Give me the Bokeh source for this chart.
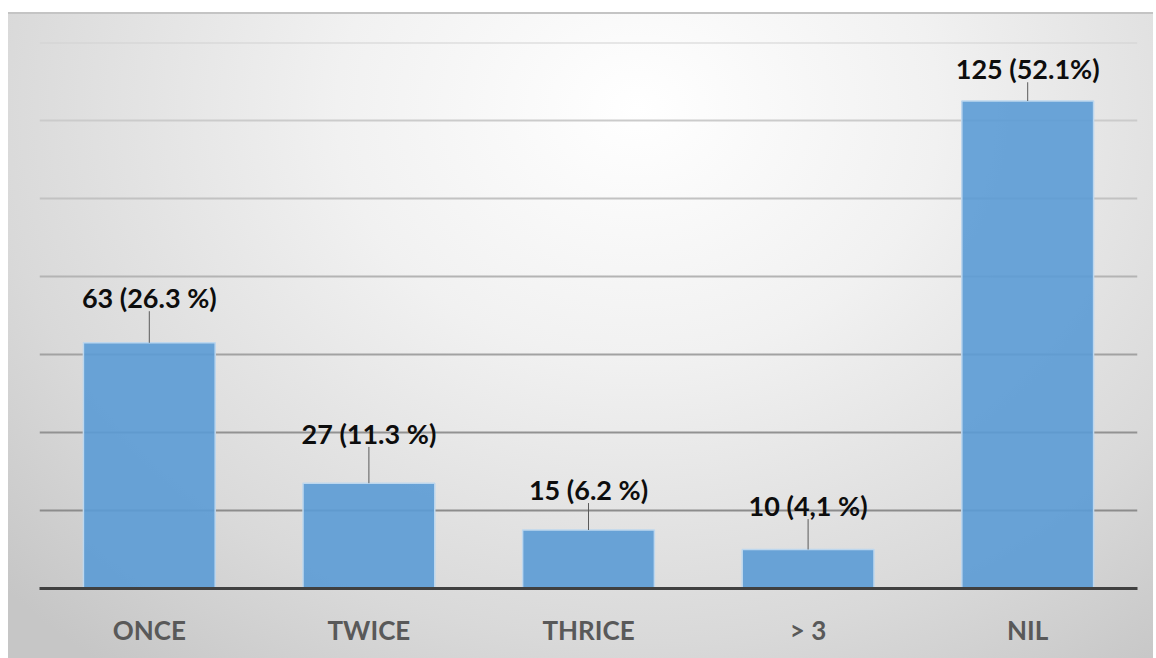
from bokeh.plotting import figure
from bokeh.models import ColumnDataSource, FactorRange, Range1d
from bokeh.core.properties import value
from bokeh.embed import file_html
from bokeh.resources import INLINE

# ---- data ----
categories = ["ONCE", "TWICE", "THRICE", "> 3", "NIL"]
counts = [63, 27, 15, 10, 125]
label_texts = ["63 (26.3 %)", "27 (11.3 %)", "15 (6.2 %)", "10 (4,1 %)", "125 (52.1%)"]
grid_levels = [20, 40, 60, 80, 100, 120, 140]

# ---- layout / style ----
label_lift = [11.6, 12.8, 10.4, 11.3, 8.3]   # data units from bar top to label baseline
leader_gap = 3.5                               # data units between label baseline and leader top
grid_colors = ["#8c8c8c", "#929292", "#a2a2a2", "#b4b4b4", "#c2c2c2", "#cbcbcb", "#d2d2d2"]

label_y = [c + l for c, l in zip(counts, label_lift)]
leader_top = [y - leader_gap for y in label_y]

src = ColumnDataSource(dict(cat=categories, count=counts, text=label_texts,
                            ly=label_y, lt=leader_top))

p = figure(x_range=FactorRange(*categories, range_padding=0),
           y_range=Range1d(0, 140),
           width=1156, height=658,
           output_backend="svg", toolbar_location=None,
           min_border_left=39, min_border_right=19,
           min_border_top=42, min_border_bottom=70)

p.background_fill_alpha = 0
p.border_fill_alpha = 0
p.outline_line_color = None
p.grid.visible = False
p.yaxis.visible = False
p.styles = {
    "background": (
        "linear-gradient(#c4c4c4, #c4c4c4) 8px 12px / 1145px 2px no-repeat, "
        "radial-gradient(ellipse 75% 110% at 55% 15%, #ffffff 0%, #f1f1f1 35%, "
        "#d9d9d9 75%, #c6c6c6 100%) 8px 12px / 1145px 646px no-repeat, #ffffff"
    )
}

# gridlines
p.hspan(y=grid_levels, line_color=grid_colors, line_width=2)

# bars
p.vbar(x="cat", top="count", width=0.6, source=src,
       fill_color="#5b9bd5", fill_alpha=0.9,
       line_color="#bdd7ee", line_width=1.5)

# leader lines
p.segment(x0="cat", y0="count", x1="cat", y1="lt", source=src,
          line_color="#5a5a5a", line_width=1)

# data labels
p.text(x="cat", y="ly", text="text", source=src,
       text_font=value("Lato"), text_font_style="bold",
       text_font_size="27px", text_color="#0d0d0d",
       text_align="center", text_baseline="alphabetic")

ax = p.xaxis[0]
ax.axis_line_color = "#404040"
ax.axis_line_width = 3
ax.major_tick_line_color = None
ax.minor_tick_line_color = None
ax.major_label_text_font = "Lato"
ax.major_label_text_font_style = "bold"
ax.major_label_text_font_size = "26px"
ax.major_label_text_color = "#595959"
ax.major_label_standoff = 19

open("out.html", "w").write(file_html(p, INLINE))
